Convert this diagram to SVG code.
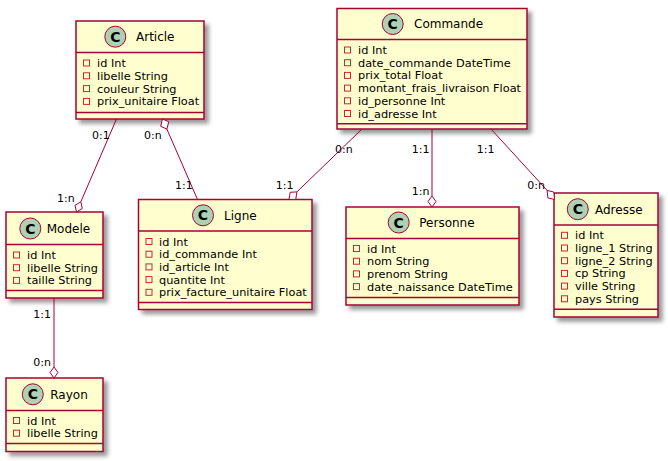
<svg xmlns="http://www.w3.org/2000/svg" width="668" height="461" viewBox="0 0 668 461">
  <defs>
    <filter id="shadow" x="-0.2" y="-0.2" width="1.5" height="1.5">
      <feGaussianBlur in="SourceAlpha" stdDeviation="2" result="blur"/>
      <feColorMatrix in="blur" type="matrix" values="0 0 0 0 0  0 0 0 0 0  0 0 0 0 0  0 0 0 0.4 0" result="dark"/>
      <feOffset in="dark" dx="4" dy="4" result="off"/>
      <feMerge><feMergeNode in="off"/><feMergeNode in="SourceGraphic"/></feMerge>
    </filter>
  </defs>
  <style>
    .box { fill: #FEFECE; stroke: #A80036; stroke-width: 1.5; filter: url(#shadow); }
    .sep { stroke: #A80036; stroke-width: 1.5; }
    .spot { fill: #ADD1B2; stroke: #A80036; stroke-width: 1; }
    .spotc { font-family: "DejaVu Sans", sans-serif; font-size: 14px; font-weight: bold; fill: #000; text-anchor: middle; }
    .name { font-family: "DejaVu Sans", sans-serif; font-size: 12px; fill: #000; }
    .mem { font-family: "DejaVu Sans", sans-serif; font-size: 11.3px; fill: #000; }
    .priv { fill: none; stroke: #C82930; stroke-width: 1; }
    .link { stroke: #A80036; stroke-width: 1; fill: none; }
    .dia { fill: #FFFFFF; stroke: #A80036; stroke-width: 1; }
    .card { font-family: "DejaVu Sans", sans-serif; font-size: 11px; fill: #000; }
  </style>

  <!-- Article -->
  <g id="Article">
    <rect class="box" x="76" y="21" width="128" height="98"/>
    <circle class="spot" cx="115.3" cy="36.7" r="10.5"/>
    <text class="spotc" x="115.3" y="41.7">C</text>
    <text class="name" x="136" y="41">Article</text>
    <line class="sep" x1="76" y1="52.5" x2="204" y2="52.5"/>
    <rect class="priv" x="83.5" y="60" width="6" height="6"/><text class="mem" x="97" y="67">id Int</text>
    <rect class="priv" x="83.5" y="72.8" width="6" height="6"/><text class="mem" x="97" y="79.8">libelle String</text>
    <rect class="priv" x="83.5" y="85.6" width="6" height="6"/><text class="mem" x="97" y="92.6">couleur String</text>
    <rect class="priv" x="83.5" y="98.4" width="6" height="6"/><text class="mem" x="97" y="105.4">prix_unitaire Float</text>
    <line class="sep" x1="76" y1="112.5" x2="204" y2="112.5"/>
  </g>

  <!-- Commande -->
  <g id="Commande">
    <rect class="box" x="337" y="8.5" width="190" height="120.5"/>
    <circle class="spot" cx="392.7" cy="24" r="10.5"/>
    <text class="spotc" x="392.7" y="29">C</text>
    <text class="name" x="414" y="28.3">Commande</text>
    <line class="sep" x1="337" y1="39.5" x2="527" y2="39.5"/>
    <rect class="priv" x="344.5" y="47" width="6" height="6"/><text class="mem" x="358" y="54">id Int</text>
    <rect class="priv" x="344.5" y="59.7" width="6" height="6"/><text class="mem" x="358" y="66.7">date_commande DateTime</text>
    <rect class="priv" x="344.5" y="72.4" width="6" height="6"/><text class="mem" x="358" y="79.4">prix_total Float</text>
    <rect class="priv" x="344.5" y="85.1" width="6" height="6"/><text class="mem" x="358" y="92.1">montant_frais_livraison Float</text>
    <rect class="priv" x="344.5" y="97.8" width="6" height="6"/><text class="mem" x="358" y="104.8">id_personne Int</text>
    <rect class="priv" x="344.5" y="110.5" width="6" height="6"/><text class="mem" x="358" y="117.5">id_adresse Int</text>
    <line class="sep" x1="337" y1="123.8" x2="527" y2="123.8"/>
  </g>

  <!-- Modele -->
  <g id="Modele">
    <rect class="box" x="6" y="212" width="97" height="86"/>
    <circle class="spot" cx="30.3" cy="228.5" r="10.5"/>
    <text class="spotc" x="30.3" y="233.5">C</text>
    <text class="name" x="46.7" y="232.8">Modele</text>
    <line class="sep" x1="6" y1="244.5" x2="103" y2="244.5"/>
    <rect class="priv" x="13.5" y="252" width="6" height="6"/><text class="mem" x="27" y="259">id Int</text>
    <rect class="priv" x="13.5" y="264.7" width="6" height="6"/><text class="mem" x="27" y="271.7">libelle String</text>
    <rect class="priv" x="13.5" y="277.4" width="6" height="6"/><text class="mem" x="27" y="284.4">taille String</text>
    <line class="sep" x1="6" y1="290.5" x2="103" y2="290.5"/>
  </g>

  <!-- Ligne -->
  <g id="Ligne">
    <rect class="box" x="138.5" y="199.5" width="173.5" height="110"/>
    <circle class="spot" cx="203" cy="215.3" r="10.5"/>
    <text class="spotc" x="203" y="220.3">C</text>
    <text class="name" x="224" y="219.6">Ligne</text>
    <line class="sep" x1="138.5" y1="231" x2="312" y2="231"/>
    <rect class="priv" x="146" y="238.5" width="6" height="6"/><text class="mem" x="159" y="245.5">id Int</text>
    <rect class="priv" x="146" y="251.2" width="6" height="6"/><text class="mem" x="159" y="258.2">id_commande Int</text>
    <rect class="priv" x="146" y="263.9" width="6" height="6"/><text class="mem" x="159" y="270.9">id_article Int</text>
    <rect class="priv" x="146" y="276.6" width="6" height="6"/><text class="mem" x="159" y="283.6">quantite Int</text>
    <rect class="priv" x="146" y="289.3" width="6" height="6"/><text class="mem" x="159" y="296.3">prix_facture_unitaire Float</text>
    <line class="sep" x1="138.5" y1="302.5" x2="312" y2="302.5"/>
  </g>

  <!-- Personne -->
  <g id="Personne">
    <rect class="box" x="346" y="207" width="173" height="98"/>
    <circle class="spot" cx="398.7" cy="222.5" r="10.5"/>
    <text class="spotc" x="398.7" y="227.5">C</text>
    <text class="name" x="419.3" y="226.8">Personne</text>
    <line class="sep" x1="346" y1="238.5" x2="519" y2="238.5"/>
    <rect class="priv" x="353.5" y="245.5" width="6" height="6"/><text class="mem" x="367" y="252.5">id Int</text>
    <rect class="priv" x="353.5" y="258.2" width="6" height="6"/><text class="mem" x="367" y="265.2">nom String</text>
    <rect class="priv" x="353.5" y="270.9" width="6" height="6"/><text class="mem" x="367" y="277.9">prenom String</text>
    <rect class="priv" x="353.5" y="283.6" width="6" height="6"/><text class="mem" x="367" y="290.6">date_naissance DateTime</text>
    <line class="sep" x1="346" y1="297.5" x2="519" y2="297.5"/>
  </g>

  <!-- Adresse -->
  <g id="Adresse">
    <rect class="box" x="554" y="193" width="104" height="124"/>
    <circle class="spot" cx="577.8" cy="209.2" r="10.5"/>
    <text class="spotc" x="577.8" y="214.2">C</text>
    <text class="name" x="595" y="213.5">Adresse</text>
    <line class="sep" x1="554" y1="225" x2="658" y2="225"/>
    <rect class="priv" x="561.5" y="232.3" width="6" height="6"/><text class="mem" x="575" y="239.3">id Int</text>
    <rect class="priv" x="561.5" y="245" width="6" height="6"/><text class="mem" x="575" y="252">ligne_1 String</text>
    <rect class="priv" x="561.5" y="257.7" width="6" height="6"/><text class="mem" x="575" y="264.7">ligne_2 String</text>
    <rect class="priv" x="561.5" y="270.4" width="6" height="6"/><text class="mem" x="575" y="277.4">cp String</text>
    <rect class="priv" x="561.5" y="283.1" width="6" height="6"/><text class="mem" x="575" y="290.1">ville String</text>
    <rect class="priv" x="561.5" y="295.8" width="6" height="6"/><text class="mem" x="575" y="302.8">pays String</text>
    <line class="sep" x1="554" y1="309.3" x2="658" y2="309.3"/>
  </g>

  <!-- Rayon -->
  <g id="Rayon">
    <rect class="box" x="6" y="378" width="97" height="73.5"/>
    <circle class="spot" cx="32.8" cy="394.3" r="10.5"/>
    <text class="spotc" x="32.8" y="399.3">C</text>
    <text class="name" x="50.3" y="398.6">Rayon</text>
    <line class="sep" x1="6" y1="410.5" x2="103" y2="410.5"/>
    <rect class="priv" x="13.5" y="417.5" width="6" height="6"/><text class="mem" x="27" y="424.5">id Int</text>
    <rect class="priv" x="13.5" y="430.2" width="6" height="6"/><text class="mem" x="27" y="437.2">libelle String</text>
    <line class="sep" x1="6" y1="443.5" x2="103" y2="443.5"/>
  </g>

  <!-- Associations with aggregation diamonds and cardinalities -->
  <g id="links">
    <!-- Article - Modele -->
    <line class="link" x1="116.5" y1="119" x2="80.8" y2="201.9"/>
    <polygon class="dia" points="76.5,212 75,205.3 80.8,201.9 82.3,208.5"/>
    <text class="card" x="92" y="139">0:1</text>
    <text class="card" x="57" y="201.5">1:n</text>

    <!-- Article - Ligne -->
    <polygon class="dia" points="162.5,119 168.7,121.8 166.9,129.1 160.7,126.3"/>
    <line class="link" x1="166.9" y1="129.1" x2="197.5" y2="199.5"/>
    <text class="card" x="144" y="139">0:n</text>
    <text class="card" x="175" y="188.5">1:1</text>

    <!-- Commande - Ligne -->
    <line class="link" x1="362" y1="129" x2="296.9" y2="191.9"/>
    <polygon class="dia" points="289,199.5 290.2,192.3 296.9,191.9 295.8,199.3"/>
    <text class="card" x="335" y="153">0:n</text>
    <text class="card" x="275.7" y="188.5">1:1</text>

    <!-- Commande - Personne -->
    <line class="link" x1="432" y1="129" x2="432" y2="196"/>
    <polygon class="dia" points="432,207 428,201.5 432,196 436,201.5"/>
    <text class="card" x="411.7" y="153">1:1</text>
    <text class="card" x="411.7" y="194.7">1:n</text>

    <!-- Commande - Adresse -->
    <line class="link" x1="491" y1="129" x2="547.1" y2="190.4"/>
    <polygon class="dia" points="554.5,199.5 547.9,197.9 547.1,190.4 553.8,192"/>
    <text class="card" x="476.7" y="153">1:1</text>
    <text class="card" x="527.3" y="189">0:n</text>

    <!-- Modele - Rayon -->
    <line class="link" x1="54" y1="298" x2="54" y2="367"/>
    <polygon class="dia" points="54,378 50,372.5 54,367 58,372.5"/>
    <text class="card" x="33.3" y="318.3">1:1</text>
    <text class="card" x="33.3" y="365.7">0:n</text>
  </g>
</svg>
